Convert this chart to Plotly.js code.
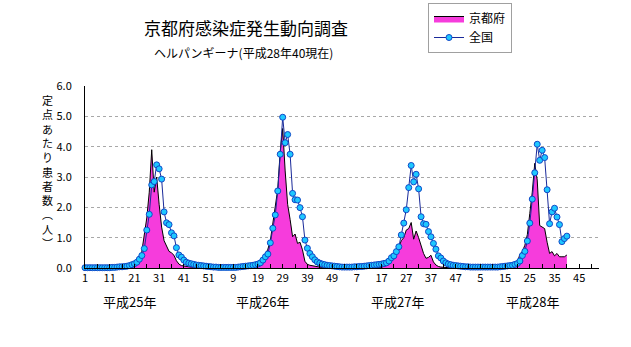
<!DOCTYPE html>
<html><head><meta charset="utf-8">
<script src="https://cdn.plot.ly/plotly-3.0.1.min.js"></script>
<style>html,body{margin:0;padding:0;background:#fff;}#chart{width:631px;height:347px;}</style>
</head><body><div id="chart"></div>
<script>
// ---- data (weekly values, 定点あたり患者数) ----
const kyotoH25 = [0,0,0,0,0,0,0,0,0,0, 0,0,0,0.02,0.02,0.03,0.03,0.04,0.05,0.08,
  0.12,0.2,0.3,0.55,1.05,1.65,2.5,3.9,2.5,3.0, 2.1,1.35,0.9,0.75,0.55,0.5,0.42,0.24,0.13,0.08,
  0.06,0.05,0.04,0.03,0.02,0.02,0.02,0.01,0.01,0, 0,0];
const kyotoH26 = [0,0,0,0,0,0,0,0,0,0, 0,0,0,0,0.02,0.04,0.06,0.08,0.12,0.2,
  0.3,0.45,0.62,0.9,1.5,2.0,2.6,3.85,4.6,3.2, 2.1,1.6,1.03,1.12,0.81,0.85,0.6,0.22,0.12,0.09,
  0.07,0.05,0.04,0.03,0.02,0.02,0.01,0.01,0,0, 0,0];
const kyotoH27 = [0,0,0,0,0,0,0,0,0,0, 0,0,0,0,0,0.02,0.03,0.05,0.08,0.12,
  0.2,0.3,0.48,0.7,0.9,1.0,1.25,1.3,1.5,0.95, 1.22,1.0,0.7,0.48,0.32,0.35,0.42,0.2,0.1,0.05,
  0.03,0.02,0.02,0.01,0,0,0,0,0,0, 0,0];
const kyotoH28 = [0,0,0,0,0,0,0,0,0,0, 0,0,0,0,0,0,0.02,0.05,0.12,0.2,
  0.45,0.55,0.75,1.1,1.8,2.5,3.45,2.9,1.4,1.35, 1.3,0.85,0.48,0.54,0.4,0.48,0.37,0.37,0.37,0.43];

const zenkokuH25 = [0.01,0.01,0.01,0.01,0.01,0.01,0.01,0.01,0.01,0.01, 0.01,0.02,0.02,0.03,0.04,0.04,0.05,0.06,0.08,0.11,
  0.14,0.19,0.29,0.41,0.64,1.25,1.77,2.74,2.85,3.40, 3.27,2.93,1.85,1.49,1.43,1.16,1.06,0.67,0.43,0.36,
  0.26,0.19,0.16,0.14,0.12,0.10,0.09,0.08,0.07,0.06, 0.05,0.04];
const zenkokuH26 = [0.03,0.03,0.02,0.02,0.02,0.02,0.02,0.02,0.02,0.02, 0.03,0.04,0.05,0.06,0.07,0.08,0.09,0.11,0.13,0.17,
  0.26,0.37,0.46,0.83,1.31,1.75,2.54,3.75,4.97,4.13, 4.40,3.75,2.46,2.25,2.24,1.99,1.69,0.92,0.65,0.48,
  0.37,0.27,0.20,0.16,0.13,0.11,0.09,0.08,0.07,0.06, 0.05,0.04];
const zenkokuH27 = [0.03,0.03,0.03,0.03,0.03,0.04,0.04,0.05,0.05,0.06, 0.07,0.08,0.09,0.10,0.11,0.12,0.13,0.15,0.17,0.23,
  0.34,0.40,0.54,0.70,1.09,1.48,1.92,2.65,3.38,2.84, 3.09,2.61,1.69,1.46,1.44,1.20,1.03,0.81,0.62,0.40,
  0.33,0.23,0.17,0.13,0.11,0.09,0.08,0.07,0.06,0.05, 0.04,0.04];
const zenkokuH28 = [0.03,0.03,0.03,0.03,0.03,0.03,0.03,0.03,0.03,0.03, 0.03,0.03,0.04,0.05,0.06,0.07,0.08,0.09,0.12,0.15,
  0.23,0.41,0.55,0.89,1.48,2.27,3.14,4.08,3.55,3.88, 3.64,2.58,1.46,1.85,1.97,1.68,1.43,0.87,0.97,1.05];

const xTickLabels = ['1','11','21','31','41','51','9','19','29','39','49','7','17','27','37','47','5','15','25','35','45'];
const yearLabels = ['平成25年','平成26年','平成27年','平成28年'];
const yTickLabels = ['0.0','1.0','2.0','3.0','4.0','5.0','6.0'];
const seriesNames = ['京都府','全国'];
const yTitleChars = ['定','点','あ','た','り','患','者','数','︵','人','︶'];
const titleText = '京都府感染症発生動向調査';
const subtitleText = 'ヘルパンギーナ(平成28年40現在)';

// ---- build ----
const kyoto = [].concat(kyotoH25, kyotoH26, kyotoH27, kyotoH28);
const zenkoku = [].concat(zenkokuH25, zenkokuH26, zenkokuH27, zenkokuH28);
const idx = kyoto.map((_, k) => k + 1);

const W = 631, H = 347, L = 85, R = 599, T = 86, B = 268;
const px = x => (x - L) / (R - L);
const py = y => (B - y) / (B - T);
const FONT = '"Noto Sans CJK JP", "Noto Sans", sans-serif';

const tickvals = [], ticktext = [];
for (let v = 1; v <= 206; v += 5) {
  tickvals.push(v);
  ticktext.push((v - 1) % 10 === 0 ? (xTickLabels[(v - 1) / 10] || '') : '');
}

const traces = [
  {x: idx, y: kyoto, name: seriesNames[0], type: 'scatter', mode: 'lines',
   line: {color: '#000', width: 1}, fill: 'tozeroy', fillcolor: '#f63cdc', cliponaxis: false},
  {x: idx.slice(0, zenkoku.length), y: zenkoku, name: seriesNames[1], type: 'scatter', mode: 'lines+markers',
   line: {color: '#1a2a9a', width: 1},
   marker: {symbol: 'circle', size: 6, color: '#1ec8ff', line: {color: '#1048c8', width: 1}},
   cliponaxis: false}
];

const annotations = [
  {text: titleText, xref: 'paper', yref: 'paper', x: px(246), y: py(27), xanchor: 'center', yanchor: 'middle',
   showarrow: false, font: {size: 17, color: '#000', family: FONT}},
  {text: subtitleText, xref: 'paper', yref: 'paper', x: px(243), y: py(52), xanchor: 'center', yanchor: 'middle',
   showarrow: false, font: {size: 12, color: '#000', family: FONT}},
  {text: yTitleChars.join('<br>'), xref: 'paper', yref: 'paper', x: px(47), y: py(171), xanchor: 'center', yanchor: 'middle',
   align: 'center', showarrow: false, font: {size: 11, color: '#000', family: FONT}}
];
const yearCenters = [129.5, 262, 397.5, 532.5];
yearLabels.forEach((t, k) => annotations.push({text: t, xref: 'paper', yref: 'paper', x: px(yearCenters[k]), y: py(301.5),
  xanchor: 'center', yanchor: 'middle', showarrow: false, font: {size: 13, color: '#000', family: FONT}}));

const layout = {
  width: W, height: H,
  margin: {l: L, r: W - R, t: T, b: H - B, pad: 0, autoexpand: false},
  paper_bgcolor: '#fff', plot_bgcolor: '#fff',
  font: {family: FONT, size: 11, color: '#000'},
  showlegend: true,
  legend: {x: px(512), y: py(3), xanchor: 'right', yanchor: 'top', bgcolor: '#fff',
    bordercolor: '#a0a0a0', borderwidth: 1, font: {size: 12, family: FONT}, tracegroupgap: 0, itemwidth: 30},
  xaxis: {range: [1, 209], tickmode: 'array', tickvals, ticktext, ticks: 'inside', ticklen: 4, tickcolor: '#000',
    showline: true, linecolor: '#000', linewidth: 1, showgrid: false, zeroline: false,
    tickfont: {size: 11, family: FONT}, fixedrange: true},
  yaxis: {range: [0, 6], tickmode: 'array', tickvals: [0,1,2,3,4,5,6], ticktext: yTickLabels, ticks: '',
    showline: true, linecolor: '#000', linewidth: 1, showgrid: true, gridcolor: '#a8a8a8', griddash: 'dot', gridwidth: 1,
    zeroline: false, tickfont: {size: 11, family: FONT}, ticklabelstandoff: 10, fixedrange: true},
  annotations
};

Plotly.newPlot('chart', traces, layout, {displayModeBar: false, staticPlot: true});
</script>
</body></html>
